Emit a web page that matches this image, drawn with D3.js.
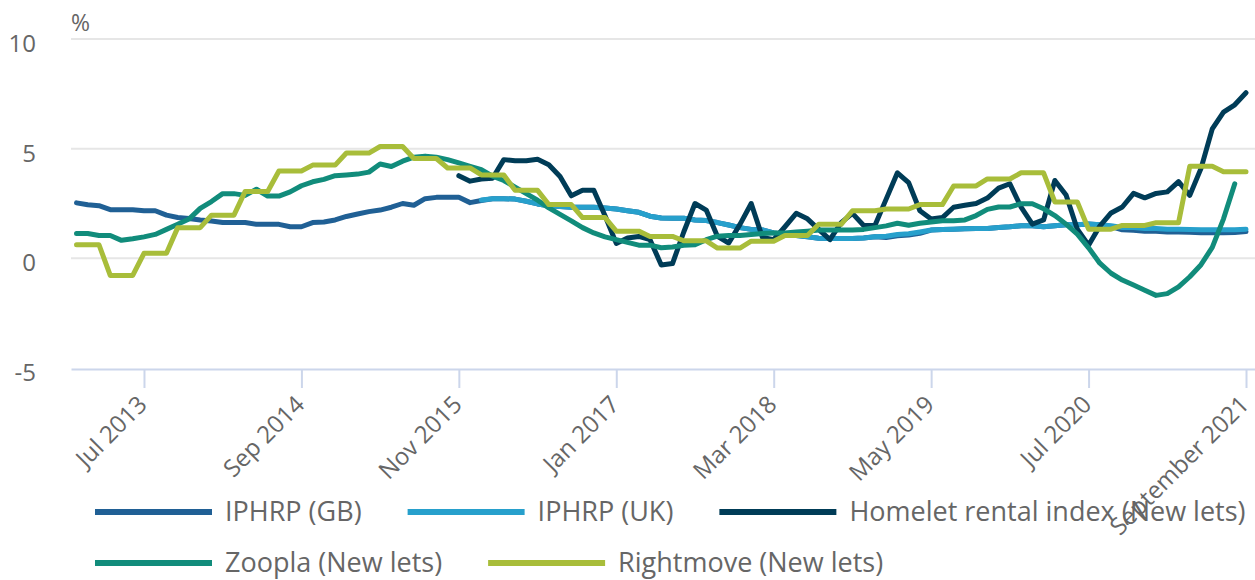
<!DOCTYPE html>
<meta charset="utf-8">
<title>Private rental prices</title>
<script src="https://d3js.org/d3.v7.min.js"></script>
<style>
  body { margin: 0; background: #fff; }
  text { font-family: "Open Sans", sans-serif; fill: #666; }
</style>
<body>
<script>

// months from Jan 2013 to Sep 2021, one value per month
const months = d3.timeMonth.range(new Date(2013, 0, 1), new Date(2021, 9, 1));

const tickIndex = [6, 20, 34, 48, 62, 76, 90, 104];
const tickLabels = ["Jul 2013", "Sep 2014", "Nov 2015", "Jan 2017", "Mar 2018", "May 2019", "Jul 2020", "September 2021"];
const yTicks = [-5, 0, 5, 10];

// IPHRP (GB), Jan 2013 - Sep 2021
const iphrpGB = [
  2.53, 2.44, 2.4, 2.22, 2.22, 2.22, 2.17, 2.17, 1.97, 1.86, 1.82, 1.75,
  1.7, 1.63, 1.63, 1.63, 1.55, 1.55, 1.55, 1.44, 1.44, 1.63, 1.66, 1.75,
  1.91, 2.02, 2.13, 2.2, 2.33, 2.5, 2.42, 2.72, 2.78, 2.78, 2.78, 2.54,
  2.64, 2.72, 2.72, 2.7, 2.6, 2.48, 2.4, 2.36, 2.33, 2.33, 2.33, 2.3,
  2.25, 2.17, 2.1, 1.92, 1.84, 1.83, 1.83, 1.75, 1.72, 1.63, 1.52, 1.4,
  1.32, 1.29, 1.16, 1.09, 1.04, 0.98, 0.92, 0.9, 0.9, 0.9, 0.93, 0.98,
  0.95, 1.03, 1.06, 1.14, 1.29, 1.32, 1.33, 1.35, 1.36, 1.36, 1.41, 1.44,
  1.49, 1.49, 1.44, 1.49, 1.53, 1.53, 1.56, 1.53, 1.45, 1.3, 1.28, 1.23,
  1.23, 1.2, 1.2, 1.19, 1.17, 1.17, 1.17, 1.18, 1.22
];

// IPHRP (UK), Jan 2016 - Sep 2021
const iphrpUK = [
  2.66, 2.72, 2.72, 2.7, 2.6, 2.48, 2.4, 2.36, 2.33, 2.33, 2.33, 2.3,
  2.25, 2.17, 2.1, 1.92, 1.84, 1.83, 1.83, 1.75, 1.72, 1.63, 1.52, 1.4,
  1.32, 1.29, 1.16, 1.09, 1.04, 0.98, 0.92, 0.9, 0.9, 0.9, 0.93, 0.98,
  1.01, 1.09, 1.12, 1.2, 1.29, 1.32, 1.33, 1.35, 1.36, 1.36, 1.41, 1.44,
  1.49, 1.49, 1.44, 1.49, 1.53, 1.53, 1.56, 1.53, 1.49, 1.41, 1.41, 1.36,
  1.36, 1.33, 1.33, 1.32, 1.3, 1.3, 1.3, 1.3, 1.33
];

// Homelet rental index (New lets), Nov 2015 - Sep 2021
const homelet = [
  3.77, 3.52, 3.62, 3.65, 4.5, 4.45, 4.45, 4.52, 4.27, 3.73, 2.85, 3.1,
  3.1, 1.94, 0.68, 0.93, 1.0, 0.85, -0.3, -0.24, 1.2, 2.5, 2.2, 1.0,
  0.7, 1.55, 2.5, 0.95, 0.85, 1.44, 2.05, 1.8, 1.32, 0.85, 1.63, 2.05,
  1.5, 1.5, 2.7, 3.9, 3.45, 2.17, 1.79, 1.86, 2.33, 2.42, 2.5, 2.75,
  3.2, 3.4, 2.33, 1.56, 1.75, 3.55, 2.89, 1.33, 0.6, 1.47, 2.07, 2.34,
  2.96, 2.76, 2.96, 3.03, 3.5, 2.87, 4.1, 5.9, 6.67, 7.0, 7.55
];

// Zoopla (New lets), Jan 2013 - Aug 2021
const zoopla = [
  1.13, 1.13, 1.04, 1.04, 0.82, 0.89, 0.98, 1.09, 1.32, 1.55, 1.79, 2.28,
  2.59, 2.95, 2.95, 2.87, 3.15, 2.84, 2.84, 3.03, 3.31, 3.49, 3.6, 3.77,
  3.8, 3.84, 3.93, 4.3, 4.19, 4.43, 4.61, 4.66, 4.61, 4.5, 4.35, 4.19,
  4.04, 3.75, 3.55, 3.25, 2.95, 2.65, 2.3, 2.0, 1.71, 1.4, 1.16, 0.98,
  0.85, 0.73, 0.6, 0.6, 0.48, 0.52, 0.6, 0.62, 0.85, 1.01, 1.04, 1.04,
  1.09, 1.13, 1.16, 1.16, 1.2, 1.24, 1.29, 1.29, 1.29, 1.29, 1.32, 1.4,
  1.48, 1.6, 1.51, 1.6, 1.66, 1.71, 1.71, 1.75, 1.95, 2.23, 2.34, 2.34,
  2.49, 2.49, 2.26, 1.95, 1.56, 1.1, 0.48, -0.22, -0.68, -0.99, -1.22, -1.46,
  -1.69, -1.61, -1.3, -0.84, -0.29, 0.5, 1.8, 3.4
];

// Rightmove (New lets), Jan 2013 - Sep 2021
const rightmove = [
  0.62, 0.62, 0.62, -0.78, -0.78, -0.78, 0.23, 0.23, 0.23, 1.4, 1.4, 1.4,
  1.97, 1.97, 1.97, 3.05, 3.05, 3.05, 3.98, 3.98, 3.98, 4.25, 4.25, 4.25,
  4.8, 4.8, 4.8, 5.1, 5.1, 5.1, 4.55, 4.55, 4.55, 4.12, 4.12, 4.12,
  3.8, 3.8, 3.8, 3.1, 3.1, 3.1, 2.45, 2.45, 2.45, 1.86, 1.86, 1.86,
  1.24, 1.24, 1.24, 1.0, 1.0, 1.0, 0.8, 0.8, 0.8, 0.47, 0.47, 0.47,
  0.78, 0.78, 0.78, 1.04, 1.04, 1.04, 1.55, 1.55, 1.55, 2.17, 2.17, 2.17,
  2.25, 2.25, 2.25, 2.45, 2.45, 2.45, 3.3, 3.3, 3.3, 3.62, 3.62, 3.62,
  3.9, 3.9, 3.9, 2.57, 2.57, 2.57, 1.33, 1.33, 1.33, 1.5, 1.5, 1.5,
  1.62, 1.62, 1.62, 4.2, 4.2, 4.2, 3.95, 3.95, 3.95
];

const series = [
  { name: "IPHRP (GB)", color: "#206095", start: 0, values: iphrpGB },
  { name: "IPHRP (UK)", color: "#27a0cc", start: 36, values: iphrpUK },
  { name: "Homelet rental index (New lets)", color: "#003c57", start: 34, values: homelet },
  { name: "Zoopla (New lets)", color: "#118c7b", start: 0, values: zoopla },
  { name: "Rightmove (New lets)", color: "#a8bd3a", start: 0, values: rightmove }
];

const width = 1255, height = 580;
const plot = { left: 71, right: 1255, top: 39, bottom: 368 };

const svg = d3.select("body").append("svg")
  .attr("width", width)
  .attr("height", height);

const x = d3.scaleLinear()
  .domain([-0.49, 104.8])
  .range([plot.left, plot.right]);

const y = d3.scaleLinear()
  .domain([-5, 10])
  .range([plot.bottom, plot.top]);

// gridlines
svg.append("g")
  .selectAll("line")
  .data(yTicks.filter(d => d > -5))
  .join("line")
  .attr("x1", plot.left)
  .attr("x2", plot.right)
  .attr("y1", d => y(d))
  .attr("y2", d => y(d))
  .attr("stroke", "#e6e6e6")
  .attr("stroke-width", 2);

// y labels
svg.append("g")
  .selectAll("text")
  .data(yTicks)
  .join("text")
  .attr("x", 36)
  .attr("y", d => y(d) + 13)
  .attr("text-anchor", "end")
  .style("font-size", "24px")
  .text(d => d);

svg.append("text")
  .attr("x", 71)
  .attr("y", 31)
  .style("font-size", "23px")
  .text("%");

// x axis
const xAxis = d3.axisBottom(x)
  .tickValues(tickIndex)
  .tickFormat((d, i) => tickLabels[i])
  .tickSize(19)
  .tickSizeOuter(0);

const gx = svg.append("g")
  .attr("transform", `translate(0,${plot.bottom + 1})`)
  .call(xAxis);

gx.select(".domain").attr("stroke", "#ccd6eb").attr("stroke-width", 2);
gx.selectAll(".tick line").attr("stroke", "#ccd6eb").attr("stroke-width", 2);
gx.selectAll(".tick text")
  .attr("fill", "#666")
  .style("font-size", "24px")
  .style("font-family", "'Open Sans', sans-serif")
  .attr("text-anchor", "end")
  .attr("dy", null)
  .attr("y", 0)
  .attr("transform", "translate(4,37) rotate(-45)");

// lines
const line = d3.line()
  .x(d => x(d.i))
  .y(d => y(d.v));

svg.append("g")
  .selectAll("path")
  .data(series)
  .join("path")
  .attr("fill", "none")
  .attr("stroke", d => d.color)
  .attr("stroke-width", 5)
  .attr("stroke-linejoin", "round")
  .attr("stroke-linecap", "round")
  .attr("d", d => line(d.values.map((v, k) => ({ i: d.start + k, v: v }))));

// legend
const rows = [[0, 1, 2], [3, 4]];
const rowY = [512, 563];
const legend = svg.append("g");
rows.forEach((row, r) => {
  let cx = 95;
  row.forEach(k => {
    const s = series[k];
    const g = legend.append("g").attr("transform", `translate(${cx},${rowY[r]})`);
    g.append("line")
      .attr("x1", 0).attr("x2", 117)
      .attr("stroke", s.color)
      .attr("stroke-width", 6);
    const t = g.append("text")
      .attr("x", 130)
      .attr("y", 9)
      .style("font-size", "27px")
      .text(s.name);
    cx += 130 + t.node().getComputedTextLength() + 46;
  });
});

</script>
</body>
